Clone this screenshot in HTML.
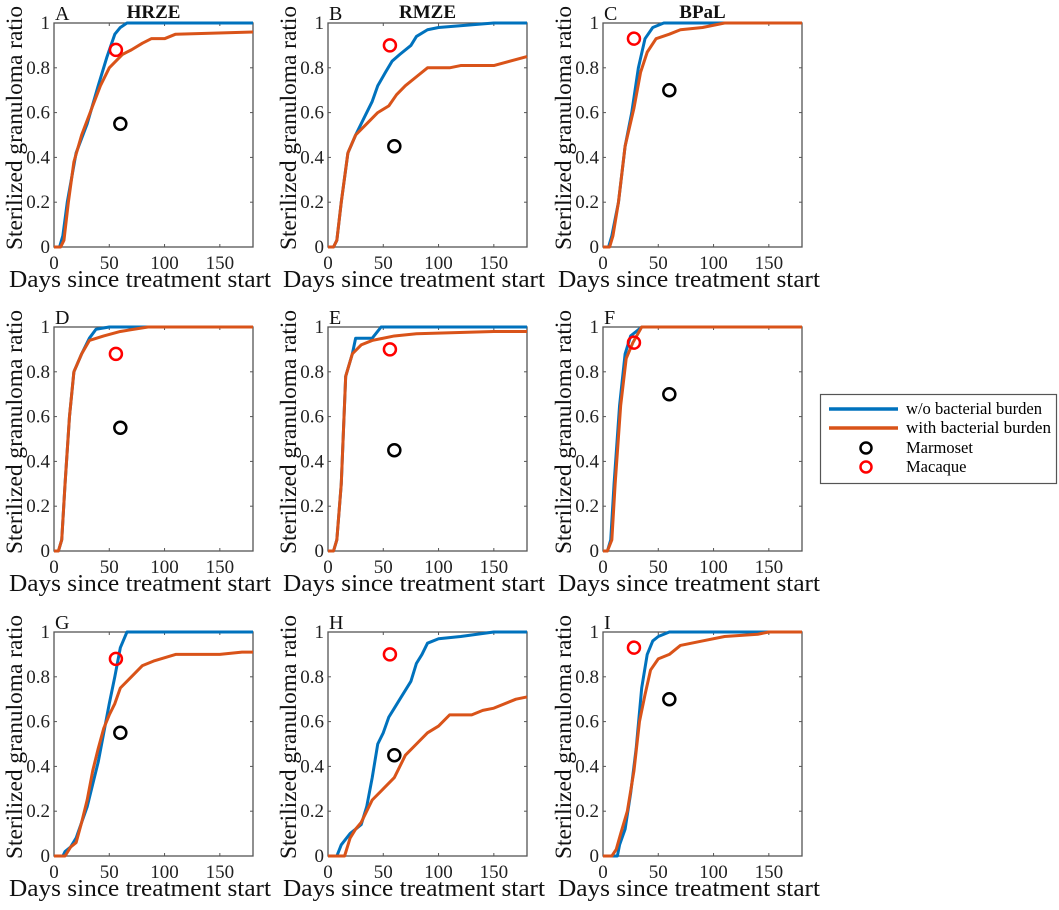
<!DOCTYPE html>
<html><head><meta charset="utf-8"><style>
html,body{margin:0;padding:0;background:#fff}
svg{display:block;font-family:"Liberation Serif",serif}
</style></head><body>
<svg id="fig" width="1059" height="910" viewBox="0 0 1059 910" xmlns="http://www.w3.org/2000/svg">
<g>
<rect x="820.5" y="394.5" width="236" height="89" fill="#fff" stroke="#555" stroke-width="1.2"/>
<line x1="829" y1="409" x2="898" y2="409" stroke="#0072BD" stroke-width="3.5"/>
<text x="906" y="414" font-size="16.5" textLength="136" lengthAdjust="spacingAndGlyphs">w/o bacterial burden</text>
<line x1="829" y1="428" x2="898" y2="428" stroke="#D95319" stroke-width="3.5"/>
<text x="906" y="433" font-size="16.5" textLength="145" lengthAdjust="spacingAndGlyphs">with bacterial burden</text>
<circle cx="866" cy="448" r="5.5" fill="none" stroke="#000" stroke-width="2.5"/>
<text x="906" y="453" font-size="16.5">Marmoset</text>
<circle cx="866" cy="467" r="5.5" fill="none" stroke="#f00" stroke-width="2.5"/>
<text x="906" y="472" font-size="16.5">Macaque</text>
</g>
</svg>
<script>
const panelLetters = ["A","B","C","D","E","F","G","H","I"];
const panelTitles = ["HRZE","RMZE","BPaL","","","","","",""];
const xTicks = [0,50,100,150];
const yTicks = [0,0.2,0.4,0.6,0.8,1];
const yTickLabels = ["0","0.2","0.4","0.6","0.8","1"];
const marmosetDay = [60,60,60,60,60,60,60,60,60];
const marmosetVal = [0.55,0.45,0.70,0.55,0.45,0.70,0.55,0.45,0.70];
const macaqueDay = [56,56,28,56,56,28,56,56,28];
const macaqueVal = [0.88,0.90,0.93,0.88,0.90,0.93,0.88,0.90,0.93];
const blueDays = [
[0,5,8,12,20,30,40,48,55,60,66,180],
[0,5,8,12,18,25,33,40,45,52,58,65,75,80,90,100,150,180],
[0,5,8,14,20,26,32,38,45,55,180],
[0,4,7,10,14,18,25,32,38,50,180],
[0,5,8,12,16,22,25,40,48,180],
[0,4,7,10,15,20,25,30,35,180],
[0,8,10,15,20,25,30,35,40,45,50,55,60,66,180],
[0,8,12,20,30,35,40,45,50,55,60,65,75,80,85,90,100,120,150,180],
[0,13,15,20,25,30,35,40,45,50,60,180]];
const blueVals = [
[0,0,0.05,0.2,0.42,0.55,0.72,0.85,0.95,0.98,1,1],
[0,0,0.03,0.2,0.42,0.5,0.58,0.65,0.72,0.78,0.83,0.86,0.9,0.94,0.97,0.98,1,1],
[0,0,0.05,0.2,0.45,0.6,0.8,0.93,0.98,1,1],
[0,0,0.05,0.3,0.6,0.8,0.88,0.95,0.99,1,1],
[0,0,0.05,0.3,0.78,0.88,0.95,0.95,1,1],
[0,0,0.05,0.3,0.65,0.88,0.96,0.98,1,1],
[0,0,0.02,0.04,0.08,0.15,0.22,0.32,0.42,0.55,0.68,0.8,0.93,1,1],
[0,0,0.05,0.1,0.14,0.22,0.35,0.5,0.55,0.62,0.66,0.7,0.78,0.86,0.9,0.95,0.97,0.98,1,1],
[0,0,0.05,0.12,0.28,0.48,0.75,0.9,0.96,0.98,1,1]];
const orangeDays = [
[0,6,9,13,18,25,35,42,50,58,62,70,80,88,100,110,180],
[0,5,8,12,18,25,35,45,55,62,70,80,90,110,120,150,180],
[0,6,9,14,20,28,34,40,48,60,70,90,110,180],
[0,4,7,10,14,18,25,32,45,60,85,180],
[0,5,8,12,16,22,30,40,60,80,150,180],
[0,4,8,11,16,21,27,35,180],
[0,10,15,20,25,30,35,40,45,50,55,60,70,80,90,110,150,170,180],
[0,15,20,25,30,35,40,50,60,70,80,90,100,110,130,140,150,170,180],
[0,8,12,16,22,28,33,38,43,50,60,70,90,110,140,150,180]];
const orangeVals = [
[0,0,0.03,0.2,0.38,0.5,0.63,0.72,0.8,0.84,0.86,0.88,0.91,0.93,0.93,0.95,0.96],
[0,0,0.03,0.2,0.42,0.5,0.55,0.6,0.63,0.68,0.72,0.76,0.8,0.8,0.81,0.81,0.85],
[0,0,0.05,0.2,0.45,0.62,0.78,0.87,0.93,0.95,0.97,0.98,1,1],
[0,0,0.05,0.3,0.6,0.8,0.88,0.94,0.96,0.98,1,1],
[0,0,0.05,0.3,0.78,0.88,0.92,0.94,0.96,0.97,0.98,0.98],
[0,0,0.05,0.3,0.65,0.86,0.93,1,1],
[0,0,0.04,0.06,0.15,0.25,0.38,0.48,0.57,0.63,0.68,0.75,0.8,0.85,0.87,0.9,0.9,0.91,0.91],
[0,0,0.08,0.12,0.15,0.2,0.25,0.3,0.35,0.45,0.5,0.55,0.58,0.63,0.63,0.65,0.66,0.7,0.71],
[0,0,0.03,0.1,0.2,0.38,0.6,0.72,0.83,0.88,0.9,0.94,0.96,0.98,0.99,1,1]];

const NS = "http://www.w3.org/2000/svg";
const svg = document.getElementById("fig");
const colLeft = [54,328,603];
const rowTop = [23,327,632];
const W = 199, H = 224;
function mk(tag, attrs, parent){const e=document.createElementNS(NS,tag);for(const k in attrs)e.setAttribute(k,attrs[k]);parent.appendChild(e);return e;}
for(let p=0;p<9;p++){
  const L=colLeft[p%3], T=rowTop[Math.floor(p/3)];
  const sx=d=>L+d/180*W, sy=v=>T+H-v*H;
  const g=mk("g",{},svg);
  
  
  const box=mk("rect",{x:L,y:T,width:W,height:H,fill:"#fff",stroke:"#555","stroke-width":1.3},g);
  
  
  xTicks.forEach(t=>{
    const x=sx(t);
    mk("line",{x1:x,y1:T+H,x2:x,y2:T+H-3,stroke:"#555"},g);
    mk("line",{x1:x,y1:T,x2:x,y2:T+3,stroke:"#555"},g);
    const tl=mk("text",{x:x,y:T+H+22,"font-size":19,"text-anchor":"middle",fill:"#222"},g);
    tl.textContent=t;
    
    
  });
  yTicks.forEach((t,i)=>{
    const y=sy(t);
    mk("line",{x1:L,y1:y,x2:L+3,y2:y,stroke:"#555"},g);
    mk("line",{x1:L+W,y1:y,x2:L+W-3,y2:y,stroke:"#555"},g);
    const tl=mk("text",{x:L-4,y:y+6,"font-size":19,"text-anchor":"end",fill:"#222"},g);
    tl.textContent=yTickLabels[i];
    
    
  });
  const xl=mk("text",{x:L+86,y:T+H+40,"font-size":24,"text-anchor":"middle",fill:"#111",textLength:262,lengthAdjust:"spacingAndGlyphs"},g);
  xl.textContent="Days since treatment start";
  
  
  const yl=mk("text",{x:0,y:0,"font-size":23,"text-anchor":"middle",fill:"#111",textLength:244,lengthAdjust:"spacingAndGlyphs",transform:`translate(${L-32},${T+105}) rotate(-90)`},g);
  yl.textContent="Sterilized granuloma ratio";
  
  
  const lt=mk("text",{x:L+1,y:T-3,"font-size":20,fill:"#111"},g);
  lt.textContent=panelLetters[p];
  
  
  if(panelTitles[p]){
    const tt=mk("text",{x:L+W/2,y:T-5,"font-size":19,"font-weight":"bold","text-anchor":"middle",fill:"#111"},g);
    tt.textContent=panelTitles[p];
    
    
  }
  const bl=mk("polyline",{points:blueDays[p].map((d,i)=>sx(d)+","+sy(blueVals[p][i])).join(" "),fill:"none",stroke:"#0072BD","stroke-width":3,"stroke-linejoin":"round"},g);
  
  
  const ol=mk("polyline",{points:orangeDays[p].map((d,i)=>sx(d)+","+sy(orangeVals[p][i])).join(" "),fill:"none",stroke:"#D95319","stroke-width":3,"stroke-linejoin":"round"},g);
  
  
  const mm=mk("circle",{cx:sx(marmosetDay[p]),cy:sy(marmosetVal[p]),r:6,fill:"none",stroke:"#000","stroke-width":2.5},g);
  
  
  const mc=mk("circle",{cx:sx(macaqueDay[p]),cy:sy(macaqueVal[p]),r:6,fill:"none",stroke:"#f00","stroke-width":2.5},g);
  
  
}
</script>
</body></html>
